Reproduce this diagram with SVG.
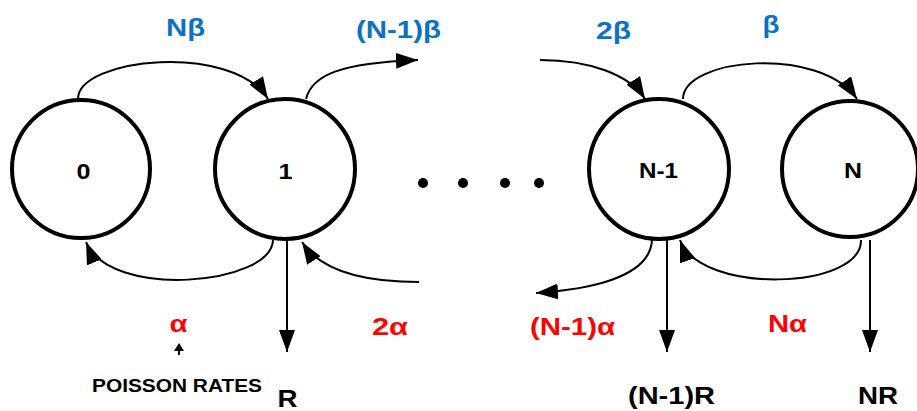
<svg xmlns="http://www.w3.org/2000/svg" width="917" height="411" viewBox="0 0 917 411">
<style>
.node{fill:#fff;stroke:#000;stroke-width:4}
.nl{font-family:"Liberation Sans",Arial,sans-serif;font-weight:bold;font-size:22px;text-anchor:middle;fill:#000}
.edge{fill:none;stroke:#000;stroke-width:2}
.lb{font-family:"Liberation Sans",Arial,sans-serif;font-weight:bold;font-size:24px;text-anchor:middle}
.blue{fill:#0b72c2}
.red{fill:#ff0000}
.blk{fill:#000}
</style>
<defs>
<marker id="ah" markerUnits="userSpaceOnUse" markerWidth="22" markerHeight="16" refX="22" refY="8" orient="auto">
<path d="M0,0 L22,8 L0,16 z" fill="#000"/>
</marker>
</defs>
<g id="connectors">
<path class="edge" d="M78,99 C78,58 232,42 268,99" marker-end="url(#ah)"/>
<path class="edge" d="M306,99 C312,75 340,63 418,60" marker-end="url(#ah)"/>
<path class="edge" d="M540,60 C590,60 630,75 645,99" marker-end="url(#ah)"/>
<path class="edge" d="M683,99 C683,58 820,45 857,99" marker-end="url(#ah)"/>
<path class="edge" d="M273,240 C272,285 110,300 86,242" marker-end="url(#ah)"/>
<path class="edge" d="M419,282 C360,282 320,270 302,242" marker-end="url(#ah)"/>
<path class="edge" d="M652,240 C650,280 580,290 536,293" marker-end="url(#ah)"/>
<path class="edge" d="M861,240 C862,290 700,295 680,240" marker-end="url(#ah)"/>
<path class="edge" d="M287,240 L287,352" marker-end="url(#ah)"/>
<path class="edge" d="M667,240 L667,352" marker-end="url(#ah)"/>
<path class="edge" d="M870,240 L870,352" marker-end="url(#ah)"/>
<path class="edge" d="M179,355 L179,349"/>
<polygon points="179,343 184,351 174,351" fill="#000"/>
</g>
<g id="node-0"><circle class="node" cx="81" cy="169" r="69"/><text class="nl" x="83.5" y="179" textLength="14" lengthAdjust="spacingAndGlyphs">0</text></g>
<g id="node-1"><circle class="node" cx="285" cy="169" r="70"/><text class="nl" x="285.5" y="179" textLength="14" lengthAdjust="spacingAndGlyphs">1</text></g>
<g id="node-N-1"><circle class="node" cx="659" cy="169" r="70"/><text class="nl" x="658.5" y="178" textLength="39" lengthAdjust="spacingAndGlyphs">N-1</text></g>
<g id="node-N"><circle class="node" cx="850" cy="169" r="68"/><text class="nl" x="853" y="178" textLength="18" lengthAdjust="spacingAndGlyphs">N</text></g>
<g id="ellipsis">
<circle cx="423" cy="183" r="5"/><circle cx="463" cy="183" r="5"/><circle cx="505" cy="183" r="5"/><circle cx="539" cy="183" r="5"/>
</g>
<g id="labels">
<text class="lb blue" x="185.5" y="36" textLength="39" lengthAdjust="spacingAndGlyphs">Nβ</text>
<text class="lb blue" x="398.5" y="38" textLength="85" lengthAdjust="spacingAndGlyphs">(N-1)β</text>
<text class="lb blue" x="613.5" y="39" textLength="35" lengthAdjust="spacingAndGlyphs">2β</text>
<text class="lb blue" x="771" y="33" textLength="17" lengthAdjust="spacingAndGlyphs">β</text>
<text class="lb red" x="178.5" y="332" textLength="18" lengthAdjust="spacingAndGlyphs">α</text>
<text class="lb red" x="390" y="335" textLength="36" lengthAdjust="spacingAndGlyphs">2α</text>
<text class="lb red" x="572.5" y="335" textLength="85" lengthAdjust="spacingAndGlyphs">(N-1)α</text>
<text class="lb red" x="787.5" y="332" textLength="39" lengthAdjust="spacingAndGlyphs">Nα</text>
<text class="lb blk" style="font-size:19px" x="177" y="392" textLength="170" lengthAdjust="spacingAndGlyphs">POISSON RATES</text>
<text class="lb blk" x="287.5" y="407" textLength="20" lengthAdjust="spacingAndGlyphs">R</text>
<text class="lb blk" x="671.5" y="404" textLength="87" lengthAdjust="spacingAndGlyphs">(N-1)R</text>
<text class="lb blk" x="878" y="404" textLength="40" lengthAdjust="spacingAndGlyphs">NR</text>
</g>
</svg>
